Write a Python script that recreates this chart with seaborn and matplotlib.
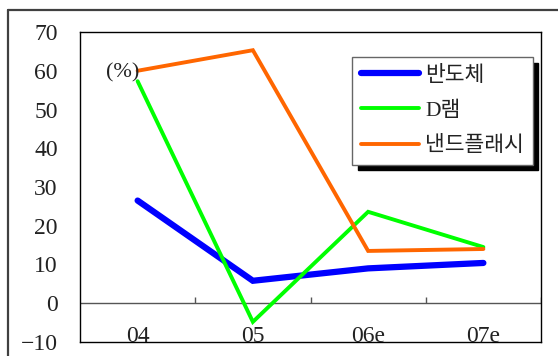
import matplotlib
matplotlib.use('Agg')
import matplotlib.pyplot as plt
import seaborn as sns
import pandas as pd
from matplotlib.lines import Line2D

# Data (growth rate, %)
years = ['04', '05', '06e', '07e']
semis = [26.5, 5.8, 9.0, 10.4]      # 반도체
dram = [57.3, -4.8, 23.6, 14.5]     # D램
nand = [60.0, 65.3, 13.5, 14.0]     # 낸드플래시

series_names = ['반도체', 'D램', '낸드플래시']
series_vals = [semis, dram, nand]
colors = ['#0000ff', '#00ff00', '#ff6600']
widths = [4.5, 2.8, 2.8]

sns.set_theme(style='white')
plt.rcParams['font.family'] = ['Liberation Serif', 'Noto Sans CJK KR']

rows = []
for name, vals in zip(series_names, series_vals):
    for i, v in enumerate(vals):
        rows.append({'pos': i, 'year': years[i], 'series': name, 'value': v})
df = pd.DataFrame(rows)

fig = plt.figure(figsize=(5.58, 3.56), dpi=100)
ax = fig.add_axes([80 / 558, 14 / 356, 461 / 558, 310 / 356])

for name, c, lw in zip(series_names, colors, widths):
    sub = df[df['series'] == name]
    sns.lineplot(data=sub, x='pos', y='value', ax=ax, color=c, linewidth=lw,
                 label=name, solid_capstyle='round', solid_joinstyle='miter')

ax.set_xlim(-0.5, 3.5)
ax.set_ylim(-10, 70)
ax.set_yticks(range(-10, 71, 10))
ax.set_xticks([])
ax.set_xlabel('')
ax.set_ylabel('')
ax.tick_params(axis='y', length=0, pad=16, labelsize=17, labelcolor='#222222')

for s in ax.spines.values():
    s.set_color('black')
    s.set_linewidth(1.0)

# zero line with small upward ticks between categories
ax.axhline(0, color='#555555', linewidth=1.0, zorder=1)
ax.vlines([0.5, 1.5, 2.5, 3.5], 0, 1.6, color='#555555', linewidth=1.0)

# category labels sitting inside the bottom of the plot
for i, y in enumerate(years):
    ax.text(i, -10, y, ha='center', va='baseline', fontsize=17, color='#222222')

ax.text(0.093, 0.868, '(%)', transform=ax.transAxes, ha='center', va='center',
        fontsize=16, color='#222222')

leg = ax.legend(loc='upper left', bbox_to_anchor=(0.590, 0.919), borderaxespad=0,
                fontsize=15.5, frameon=True, fancybox=False, handlelength=2.7,
                handletextpad=0.3, labelspacing=0.7, borderpad=0.4,
                shadow={'facecolor': 'black', 'edgecolor': 'black', 'alpha': 1,
                        'ox': 4, 'oy': -4})
leg.get_frame().set_edgecolor('#666666')
leg.get_frame().set_linewidth(1.0)
for t in leg.get_texts():
    t.set_color('#222222')

# outer frame lines (left and top)
fig.add_artist(Line2D([8 / 558, 8 / 558], [0, 1 - 10 / 356], transform=fig.transFigure,
                      color='#404040', linewidth=1.6))
fig.add_artist(Line2D([8 / 558, 1], [1 - 10 / 356, 1 - 10 / 356], transform=fig.transFigure,
                      color='#404040', linewidth=1.6))

fig.savefig('out.png', dpi=100)
